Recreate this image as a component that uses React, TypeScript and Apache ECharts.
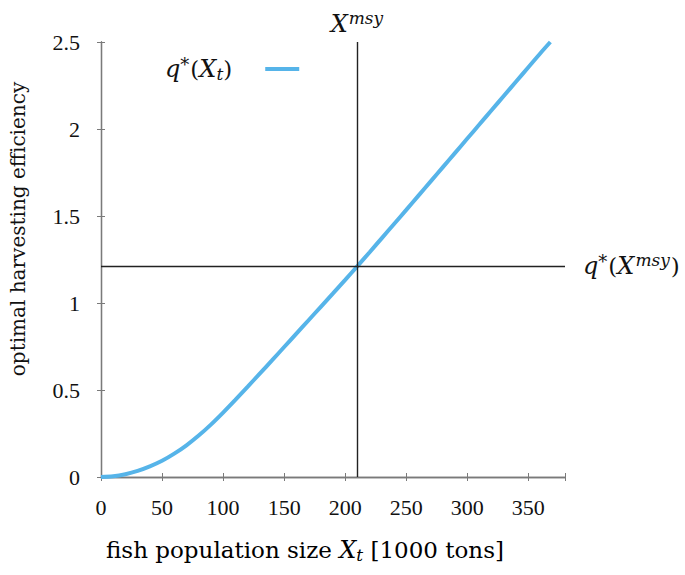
import React, { useEffect, useRef } from "react";
import * as echarts from "echarts";

const xValues = [0, 10, 20, 30, 40, 50, 60, 70, 80, 90, 100, 110, 120, 130, 140, 150, 160, 170, 180, 190, 200, 210, 220, 230, 240, 250, 260, 270, 280, 290, 300, 310, 320, 330, 340, 350, 360, 368];
const qValues = [0, 0.004, 0.016, 0.035, 0.061, 0.093, 0.134, 0.182, 0.238, 0.301, 0.37, 0.443, 0.518, 0.594, 0.67, 0.747, 0.824, 0.901, 0.978, 1.055, 1.133, 1.212, 1.292, 1.373, 1.454, 1.535, 1.617, 1.699, 1.781, 1.863, 1.945, 2.027, 2.109, 2.191, 2.273, 2.355, 2.437, 2.5];
const xMsy = 210;
const qMsy = 1.212;
const xTicks = [0, 50, 100, 150, 200, 250, 300, 350];
const yTicks = [0, 0.5, 1, 1.5, 2, 2.5];

const TICKFONT = "'Liberation Serif', 'DejaVu Serif', serif";
const FONT = "'DejaVu Serif', 'Liberation Serif', serif";
const mathRich = {
  n: { fontFamily: FONT, fontSize: 23, color: "#111" },
  i: { fontFamily: FONT, fontSize: 24, fontStyle: "italic", color: "#111" },
  sup: { fontFamily: FONT, fontSize: 17, fontStyle: "italic", color: "#111", padding: [0, 1, 12, 1] },
  star: { fontFamily: FONT, fontSize: 18, color: "#111", padding: [0, 1, 10, 0] },
  sub: { fontFamily: FONT, fontSize: 17, fontStyle: "italic", color: "#111", padding: [9, 0, 0, 0] },
  gap: { width: 28 },
};
const titleRich = {
  ...mathRich,
  n: { fontFamily: FONT, fontSize: 23, color: "#111" },
  i: { fontFamily: FONT, fontSize: 24, fontStyle: "italic", color: "#111" },
};

export default function App() {
  const ref = useRef<HTMLDivElement>(null);
  useEffect(() => {
    document.body.style.margin = "0";
    if (!ref.current) return;
    const chart = echarts.init(ref.current, null, { renderer: "svg" });
    const data = xValues.map((x, k) => [x, qValues[k]]);
    const frame = "#7a7a7a";
    const axisCommon = {
      axisLine: { show: true, lineStyle: { color: frame, width: 1.3 } },
      axisTick: { show: true, inside: true, length: 4, lineStyle: { color: frame } },
      splitLine: { show: false },
    };
    chart.setOption({
      animation: false,
      backgroundColor: "#fff",
      grid: { left: 101, right: 120, top: 42, bottom: 98 },
      legend: {
        left: 160,
        top: 50,
        align: "right",
        icon: "rect",
        itemWidth: 34,
        itemHeight: 4,
        data: ["q*(X_t)"],
        formatter: () => "{i|q}{star|*}{n|(}{i|X}{sub|t}{n|)}{gap|}",
        textStyle: { rich: mathRich },
      },
      xAxis: [
        {
          type: "value",
          min: 0,
          max: 380,
          interval: 50,
          ...axisCommon,
          axisLabel: {
            fontFamily: TICKFONT,
            fontSize: 22,
            color: "#111",
            margin: 19,
            formatter: (v: number) => (xTicks.includes(v) ? String(v) : ""),
          },
        },
        {
          type: "value",
          position: "top",
          min: 0,
          max: 380,
          interval: 50,
          ...axisCommon,
          axisLabel: { show: false },
        },
      ],
      yAxis: [
        {
          type: "value",
          min: 0,
          max: 2.5,
          interval: 0.5,
          ...axisCommon,
          axisLabel: {
            fontFamily: TICKFONT,
            fontSize: 22,
            color: "#111",
            margin: 21,
            formatter: (v: number) => (yTicks.includes(v) ? String(v) : ""),
          },
        },
        {
          type: "value",
          position: "right",
          min: 0,
          max: 2.5,
          interval: 0.5,
          ...axisCommon,
          axisLabel: { show: false },
        },
      ],
      series: [
        {
          name: "q*(X_t)",
          type: "line",
          data,
          smooth: 0.3,
          showSymbol: false,
          lineStyle: { color: "#56B4E9", width: 4 },
          itemStyle: { color: "#56B4E9" },
          markLine: {
            silent: true,
            symbol: "none",
            lineStyle: { color: "#222", width: 1.4, type: "solid" },
            data: [
              [
                { coord: [xMsy, 0] },
                {
                  coord: [xMsy, 2.5],
                  label: {
                    show: true,
                    position: "end",
                    distance: 4,
                    formatter: "{i|X}{sup|msy}",
                    rich: mathRich,
                  },
                },
              ],
              [
                { coord: [0, qMsy] },
                {
                  coord: [380, qMsy],
                  label: {
                    show: true,
                    position: "end",
                    distance: 18,
                    formatter: "{i|q}{star|*}{n|(}{i|X}{sup|msy}{n|)}",
                    rich: mathRich,
                  },
                },
              ],
            ],
          },
        },
      ],
      graphic: [
        {
          type: "text",
          x: 305,
          y: 550,
          style: {
            rich: titleRich,
            text: "{n|fish population size }{i|X}{sub|t}{n| [1000 tons]}",
            textAlign: "center",
            textVerticalAlign: "middle",
          },
        },
        {
          type: "text",
          x: 18,
          y: 229,
          rotation: Math.PI / 2,
          style: {
            text: "optimal harvesting efficiency",
            fontFamily: FONT,
            fontSize: 20,
            fill: "#111",
            textAlign: "center",
            textVerticalAlign: "middle",
          },
        },
      ],
    });
    return () => chart.dispose();
  }, []);
  return <div ref={ref} style={{ width: 685, height: 575 }} />;
}
